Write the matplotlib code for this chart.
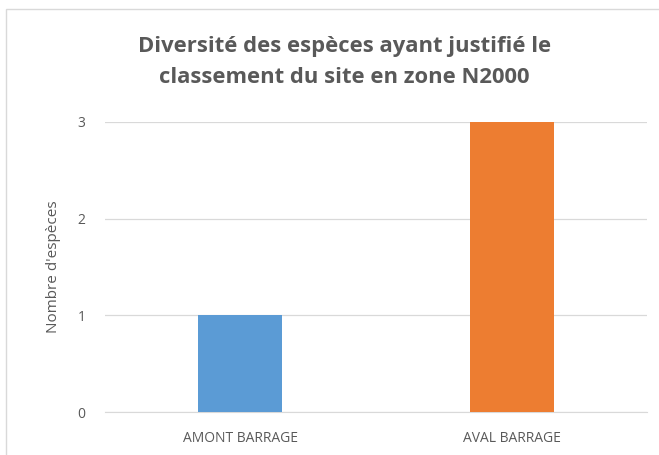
import matplotlib.pyplot as plt
from matplotlib.patches import Rectangle

categories = ["AMONT BARRAGE", "AVAL BARRAGE"]
values = [1, 3]
colors = ["#5b9bd5", "#ed7d31"]
yticks = [0, 1, 2, 3]

plt.rcParams["font.family"] = ["Open Sans", "DejaVu Sans"]
grey = "#595959"

fig = plt.figure(figsize=(6.59, 4.55), dpi=100)
ax = fig.add_axes([0.159, 0.0945, 0.823, 0.6375])

x = range(len(categories))
ax.bar(x, values, width=0.31, color=colors, zorder=3)
ax.set_xlim(-0.5, len(categories) - 0.5)
ax.set_ylim(0, 3)
ax.set_yticks(yticks)
ax.set_xticks(list(x))
ax.set_xticklabels(categories)
ax.yaxis.grid(True, color="#d9d9d9", linewidth=0.9, zorder=0)
for s in ["top", "right", "left"]:
    ax.spines[s].set_visible(False)
ax.spines["bottom"].set_color("#d9d9d9")
ax.tick_params(length=0, colors=grey, labelsize=10)
ax.tick_params(axis="x", pad=14)
ax.tick_params(axis="y", pad=14)
ax.set_ylabel("Nombre d'espèces", color=grey, fontsize=11, labelpad=12)

fig.text(0.523, 0.864, "Diversité des espèces ayant justifié le\nclassement du site en zone N2000",
         ha="center", va="center", fontsize=15.8, fontweight="bold", color=grey,
         linespacing=1.6)

fig.patches.append(Rectangle((6 / 659, -0.05), 1.1, 1 - 9 / 455 + 0.05,
                             transform=fig.transFigure, fill=False,
                             edgecolor="#d9d9d9", linewidth=1))

fig.savefig("out.png", dpi=100)
